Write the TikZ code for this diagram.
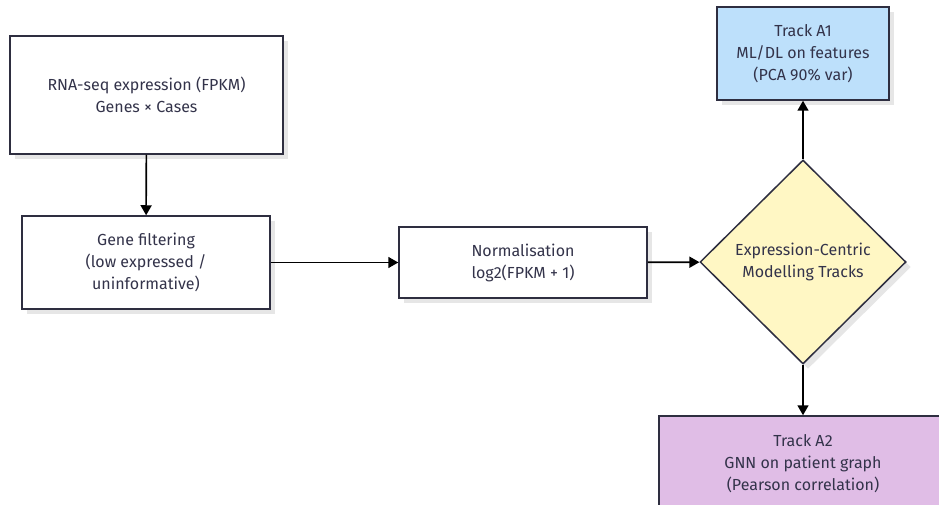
\documentclass[tikz,border=0pt]{standalone}
\usepackage{fontspec}
\setmainfont{Fira Sans}
\usetikzlibrary{arrows.meta,shapes.geometric,shadows}
\definecolor{edgeink}{HTML}{2E2E40}
\definecolor{textink}{HTML}{33334A}
\definecolor{trackblue}{HTML}{BDE0FB}
\definecolor{trackpurple}{HTML}{E0BDE6}
\definecolor{decisionyellow}{HTML}{FFF7C4}
\definecolor{shade}{HTML}{E6E6E6}
\begin{document}
\begin{tikzpicture}[x=1pt,y=-1pt,
  every node/.style={font=\fontsize{16}{22}\selectfont, text=textink, align=center},
  procbox/.style={draw=edgeink, line width=1.5pt, rectangle, inner sep=0pt,
    drop shadow={shadow xshift=5pt, shadow yshift=-5pt, fill=shade, opacity=1}},
  decision/.style={draw=edgeink, line width=1.5pt, diamond, aspect=1, inner sep=0pt,
    fill=decisionyellow, minimum width=206pt, minimum height=204pt,
    drop shadow={shadow xshift=5pt, shadow yshift=-5pt, fill=shade, opacity=1}},
  flow/.style={line width=1.6pt, -{Triangle[length=10pt,width=11pt]}, draw=black}]
\useasboundingbox (0,0) rectangle (939,505);
\begin{scope}
\clip (0,0) rectangle (939,505);
\node[procbox, fill=white, minimum width=273pt, minimum height=118pt] (rna) at (146.5,95) {RNA-seq expression (FPKM)\\Genes × Cases};
\node[procbox, fill=white, minimum width=248pt, minimum height=93pt] (filter) at (146,262.5) {Gene filtering\\(low expressed /\\uninformative)};
\node[procbox, fill=white, minimum width=248pt, minimum height=71pt] (norm) at (523,262.5) {Normalisation\\log2(FPKM + 1)};
\node[decision] (tracks) at (803,262) {Expression-Centric\\Modelling Tracks};
\node[procbox, fill=trackblue, minimum width=172pt, minimum height=93pt] (a1) at (803,53.5) {Track A1\\ML/DL on features\\(PCA 90\% var)};
\node[procbox, fill=trackpurple, minimum width=288pt, minimum height=96pt] (a2) at (803,464) {Track A2\\GNN on patient graph\\(Pearson correlation)};
\end{scope}
\draw[flow] (rna) -- (filter);
\draw[flow] (filter) -- (norm);
\draw[flow] (norm) -- (tracks);
\draw[flow] (tracks.north) -- (a1);
\draw[flow] (tracks.south) -- (a2.north);
\end{tikzpicture}
\end{document}
